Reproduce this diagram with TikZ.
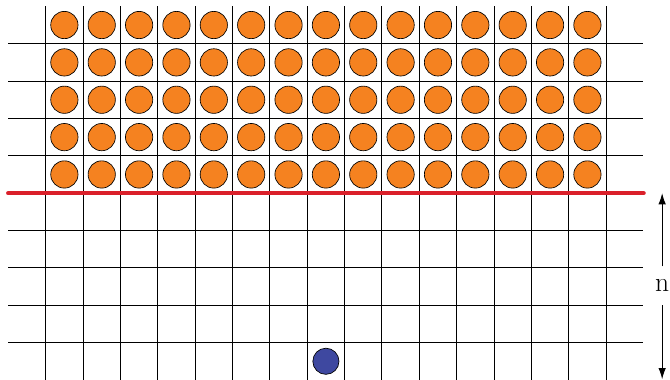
\documentclass[tikz,border=0pt]{standalone}
\usetikzlibrary{arrows.meta}
\definecolor{dotorange}{RGB}{245,130,32}
\definecolor{dotblue}{RGB}{62,72,160}
\definecolor{wallred}{RGB}{218,32,42}
\tikzset{
  gridline/.style={line width=0.8pt, black},
  wall/.style={line width=3.5pt, wallred, line cap=round},
  odot/.style={circle, draw=black, line width=0.5pt, fill=dotorange, minimum size=0.73cm, inner sep=0pt},
  bdot/.style={circle, draw=black, line width=0.5pt, fill=dotblue, minimum size=0.70cm, inner sep=0pt},
  dimarrow/.style={line width=0.7pt, -{Latex[length=3mm,width=2mm]}},
  lbl/.style={font=\fontsize{21}{25}\selectfont, inner sep=0pt, minimum height=1.03cm}
}
\begin{document}
\begin{tikzpicture}
\useasboundingbox (-0.223,0) rectangle (17.71,10.17);
% vertical lines
\foreach \i in {1,...,16} {
  \coordinate (vb\i) at (\i,0);
  \coordinate (vt\i) at (\i,10);
  \draw[gridline] (vb\i) -- (vt\i);
}
% horizontal lines
\foreach \j in {1,2,3,4,6,7,8,9} {
  \coordinate (hl\j) at (0,\j);
  \coordinate (hr\j) at (17,\j);
  \draw[gridline] (hl\j) -- (hr\j);
}
% red line
\coordinate (rl) at (0,5);
\coordinate (rr) at (17,5);
\draw[wall] (rl) -- (rr);
% orange dots
\foreach \r in {0,...,4} {
  \foreach \c in {1,...,15} {
    \node[odot] (o\r-\c) at (\c+0.5,5.5+\r) {};
  }
}
% blue dot
\node[bdot] (b) at (8.5,0.5) {};
% n arrows
\node[lbl] (n) at (17.5,2.52) {n};
\coordinate (atop) at (17.5,5);
\coordinate (abot) at (17.5,0.02);
\draw[dimarrow] (n.north) -- (atop);
\draw[dimarrow] (n.south) -- (abot);
\end{tikzpicture}
\end{document}
